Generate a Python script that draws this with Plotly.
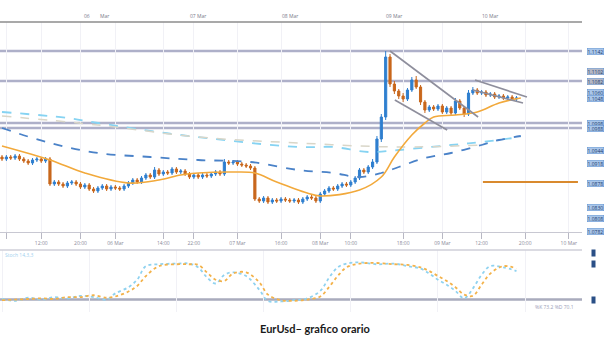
import plotly.graph_objects as go

# ---------------- data ----------------
opens = [
1.0930,1.0926,1.0930,1.0928,1.0932,1.0926,1.0922,1.0918,1.0924,1.0926,
1.0922,1.0926,1.0876,1.0880,1.0876,1.0872,1.0878,1.0880,1.0876,1.0870,
1.0874,1.0866,1.0862,1.0868,1.0872,1.0866,1.0870,1.0868,1.0866,1.0872,
1.0878,1.0884,1.0880,1.0888,1.0894,1.0890,1.0904,1.0896,1.0900,1.0898,
1.0906,1.0900,1.0902,1.0896,1.0890,1.0894,1.0890,1.0894,1.0892,1.0896,
1.0900,1.0896,1.0920,1.0918,1.0920,1.0916,1.0914,1.0912,1.0908,1.0846,
1.0842,1.0848,1.0840,1.0844,1.0842,1.0846,1.0844,1.0842,1.0844,1.0840,
1.0846,1.0850,1.0848,1.0842,1.0856,1.0862,1.0868,1.0866,1.0872,1.0876,
1.0874,1.0880,1.0888,1.0904,1.0900,1.0910,1.0920,1.0966,1.1010,1.1130,
1.1076,1.1062,1.1052,1.1046,1.1064,1.1084,1.1070,1.1040,1.1024,1.1030,
1.1026,1.1032,1.1020,1.1028,1.1018,1.1042,1.1028,1.1016,1.1058,1.1064,
1.1058,1.1060,1.1054,1.1056,1.1050,1.1052,1.1048,1.1050,1.1046]
closes = [
1.0926,1.0930,1.0928,1.0932,1.0926,1.0922,1.0918,1.0924,1.0926,1.0922,
1.0926,1.0876,1.0880,1.0876,1.0872,1.0878,1.0880,1.0876,1.0870,1.0874,
1.0866,1.0862,1.0868,1.0872,1.0866,1.0870,1.0868,1.0866,1.0872,1.0878,
1.0884,1.0880,1.0888,1.0894,1.0890,1.0904,1.0896,1.0900,1.0898,1.0906,
1.0900,1.0902,1.0896,1.0890,1.0894,1.0890,1.0894,1.0892,1.0896,1.0900,
1.0896,1.0920,1.0918,1.0920,1.0916,1.0914,1.0912,1.0908,1.0846,1.0842,
1.0848,1.0840,1.0844,1.0842,1.0846,1.0844,1.0842,1.0844,1.0840,1.0846,
1.0850,1.0848,1.0842,1.0856,1.0862,1.0868,1.0866,1.0872,1.0876,1.0874,
1.0880,1.0888,1.0904,1.0900,1.0910,1.0920,1.0966,1.1010,1.1130,1.1076,
1.1062,1.1052,1.1046,1.1064,1.1084,1.1070,1.1040,1.1024,1.1030,1.1026,
1.1032,1.1020,1.1028,1.1018,1.1042,1.1028,1.1016,1.1058,1.1064,1.1058,
1.1060,1.1054,1.1056,1.1050,1.1052,1.1048,1.1050,1.1046,1.1048]
highs = [
1.0934,1.0934,1.0934,1.0936,1.0936,1.0930,1.0926,1.0928,1.0930,1.0930,
1.0930,1.0930,1.0884,1.0884,1.0880,1.0882,1.0884,1.0884,1.0880,1.0878,
1.0878,1.0870,1.0872,1.0876,1.0876,1.0874,1.0874,1.0872,1.0876,1.0882,
1.0888,1.0888,1.0892,1.0898,1.0898,1.0910,1.0908,1.0904,1.0904,1.0910,
1.0910,1.0906,1.0906,1.0900,1.0898,1.0898,1.0898,1.0898,1.0900,1.0904,
1.0904,1.0926,1.0924,1.0924,1.0924,1.0920,1.0918,1.0916,1.0912,1.0850,
1.0852,1.0852,1.0848,1.0848,1.0850,1.0850,1.0848,1.0848,1.0848,1.0850,
1.0854,1.0854,1.0852,1.0860,1.0866,1.0872,1.0872,1.0876,1.0880,1.0880,
1.0884,1.0892,1.0908,1.0908,1.0914,1.0926,1.0972,1.1016,1.1142,1.1136,
1.1082,1.1066,1.1058,1.1068,1.1090,1.1092,1.1074,1.1044,1.1034,1.1034,
1.1036,1.1036,1.1032,1.1032,1.1048,1.1046,1.1032,1.1064,1.1070,1.1068,
1.1064,1.1064,1.1060,1.1060,1.1056,1.1056,1.1054,1.1054,1.1052]
lows = [
1.0922,1.0922,1.0924,1.0924,1.0922,1.0918,1.0914,1.0914,1.0920,1.0918,
1.0918,1.0872,1.0872,1.0872,1.0868,1.0868,1.0874,1.0872,1.0866,1.0866,
1.0862,1.0858,1.0858,1.0864,1.0862,1.0862,1.0864,1.0862,1.0862,1.0868,
1.0874,1.0876,1.0876,1.0884,1.0886,1.0886,1.0892,1.0892,1.0894,1.0894,
1.0896,1.0896,1.0892,1.0886,1.0886,1.0886,1.0886,1.0888,1.0888,1.0892,
1.0892,1.0892,1.0914,1.0914,1.0912,1.0910,1.0908,1.0904,1.0842,1.0838,
1.0838,1.0836,1.0836,1.0838,1.0838,1.0840,1.0838,1.0838,1.0836,1.0836,
1.0842,1.0844,1.0838,1.0838,1.0852,1.0858,1.0862,1.0862,1.0868,1.0870,
1.0870,1.0876,1.0884,1.0896,1.0896,1.0906,1.0916,1.0960,1.1004,1.1070,
1.1056,1.1046,1.1040,1.1042,1.1060,1.1066,1.1034,1.1018,1.1020,1.1022,
1.1022,1.1016,1.1016,1.1012,1.1014,1.1024,1.1010,1.1012,1.1054,1.1054,
1.1054,1.1050,1.1050,1.1046,1.1046,1.1044,1.1044,1.1042,1.1042]
bars = list(range(len(closes)))

# moving averages (sampled at bar indices)
ma_fast_x = [0, 11, 19, 29, 36, 41, 45, 53, 58, 63, 70, 73, 82, 87, 90, 94, 97, 99, 104, 109, 114, 119]
ma_fast_y = [1.0952, 1.0924, 1.0898, 1.0878, 1.0884, 1.0894, 1.0898, 1.0900, 1.0898, 1.0880, 1.0858,
             1.0852, 1.0864, 1.0890, 1.0930, 1.0974, 1.0998, 1.1010, 1.1014, 1.1020, 1.1038, 1.1048]
ma_slow_x = [0, 11, 22, 34, 45, 57, 68, 76, 82, 87, 91, 97, 103, 110, 114, 119]
ma_slow_y = [1.0988, 1.0958, 1.0938, 1.0930, 1.0924, 1.0920, 1.0904, 1.0898, 1.0890, 1.0898, 1.0910,
             1.0928, 1.0938, 1.0954, 1.0964, 1.0972]
ma_long_x = [0, 15, 22, 41, 68, 76, 84, 91, 103, 110, 119]
ma_long_y = [1.1020, 1.1008, 1.0998, 1.0974, 1.0950, 1.0950, 1.0940, 1.0944, 1.0954, 1.0960, 1.0970]
ma_grey_x = [0, 22, 45, 68, 91, 110]
ma_grey_y = [1.1012, 1.0994, 1.0970, 1.0958, 1.0950, 1.0954]

# support / resistance levels
levels = [1.1142, 1.1082, 1.0998, 1.0988]
target_level = 1.0880
target_x = [110.3, 132.1]

# trendlines (bar index, price)
channel_upper = ([89.0, 109.2], [1.1142, 1.1010])
channel_lower = ([90.1, 102.1], [1.1044, 1.0984])
tri_upper = ([108.5, 120.4], [1.1084, 1.1050])
tri_lower = ([108.0, 119.5], [1.1064, 1.1038])

# oscillator
osc_x = [0, 3, 6, 9, 12, 15, 18, 21, 24, 26, 29, 31, 33, 36, 40, 43, 45, 47, 49, 51, 53, 56, 59, 61, 64,
         67, 70, 73, 75, 77, 79, 82, 86, 90, 93, 96, 98, 100, 102, 104, 106, 108, 110, 112, 115, 118]
osc_k = [21, 18, 23, 20, 24, 22, 26, 24, 20, 30, 40, 52, 74, 77, 78, 78, 72, 56, 46, 60, 64, 58, 36, 18, 17,
         19, 22, 34, 55, 72, 78, 80, 77, 78, 74, 70, 62, 52, 44, 34, 22, 38, 60, 74, 72, 66]
osc_d = [19, 20, 21, 22, 21, 24, 24, 27, 23, 25, 33, 42, 58, 74, 77, 77, 76, 64, 52, 50, 62, 64, 48, 28, 19,
         18, 20, 25, 40, 58, 72, 78, 79, 77, 76, 72, 66, 58, 50, 40, 28, 26, 44, 62, 74, 70]
osc_level = 20

bottom_tick_vals = [1, 9, 18, 26, 37, 44, 54, 64, 73, 80, 92, 101, 110, 120, 130]
bottom_tick_text = ["04:00", "12:00", "20:00", "06 Mar", "14:00", "22:00", "07 Mar", "16:00",
                    "08 Mar", "10:00", "18:00", "09 Mar", "12:00", "20:00", "10 Mar"]
top_label_x = [19.5, 23.5, 45, 66, 90, 112]
top_label_text = ["06", "Mar", "07 Mar", "08 Mar", "09 Mar", "10 Mar"]

price_tags = [1.1142, 1.1102, 1.1082, 1.1060, 1.1048, 1.0998, 1.0988, 1.0944, 1.0918, 1.0878, 1.0830, 1.0808, 1.0782]
price_tag_colors = ["#a9c6ea", "#b4b8c6", "#b4b8c6", "#a9c6ea", "#a9c6ea", "#a9c6ea", "#a9c6ea",
                    "#a9c6ea", "#a9c6ea", "#a9c6ea", "#a9c6ea", "#a9c6ea", "#a9c6ea"]

# ---------------- figure ----------------
W, H = 614, 346
XR = [-0.459, 133.03]
UP = "#2f7fcf"
DN = "#c8671c"

fig = go.Figure()

fig.add_trace(go.Candlestick(
    x=bars, open=opens, high=highs, low=lows, close=closes,
    increasing=dict(line=dict(color=UP, width=1), fillcolor=UP),
    decreasing=dict(line=dict(color=DN, width=1), fillcolor=DN),
    whiskerwidth=0, showlegend=False, xaxis="x", yaxis="y"))

fig.add_trace(go.Scatter(x=ma_long_x, y=ma_long_y, mode="lines", line=dict(color="#86d3f2", width=1.8, dash="dash", shape="spline"),
                         showlegend=False, hoverinfo="skip"))
fig.add_trace(go.Scatter(x=ma_grey_x, y=ma_grey_y, mode="lines", line=dict(color="#d9d6c8", width=1.5, dash="dash", shape="spline"),
                         showlegend=False, hoverinfo="skip"))
fig.add_trace(go.Scatter(x=ma_slow_x, y=ma_slow_y, mode="lines", line=dict(color="#4a82c8", width=1.8, dash="dash", shape="spline"),
                         showlegend=False, hoverinfo="skip"))
fig.add_trace(go.Scatter(x=ma_fast_x, y=ma_fast_y, mode="lines", line=dict(color="#f2a93b", width=1.6, shape="spline"),
                         showlegend=False, hoverinfo="skip"))

for tl in (channel_upper, channel_lower, tri_upper, tri_lower):
    fig.add_trace(go.Scatter(x=tl[0], y=tl[1], mode="lines", line=dict(color="#8e8e9c", width=1.6),
                             showlegend=False, hoverinfo="skip"))

fig.add_trace(go.Scatter(x=target_x, y=[target_level, target_level], mode="lines",
                         line=dict(color="#d98a2e", width=2), showlegend=False, hoverinfo="skip"))

# oscillator
fig.add_trace(go.Scatter(x=osc_x, y=osc_k, mode="lines", line=dict(color="#8fd2f0", width=1.8, dash="dot", shape="spline"),
                         showlegend=False, hoverinfo="skip", xaxis="x2", yaxis="y2"))
fig.add_trace(go.Scatter(x=osc_x, y=osc_d, mode="lines", line=dict(color="#f3b24a", width=1.8, dash="dot", shape="spline"),
                         showlegend=False, hoverinfo="skip", xaxis="x2", yaxis="y2"))

shapes = []
for lv in levels:
    shapes.append(dict(type="line", xref="x domain", yref="y", x0=0, x1=1, y0=lv, y1=lv,
                       line=dict(color="#aeb0c9", width=2.5), layer="below"))
shapes.append(dict(type="line", xref="x2 domain", yref="y2", x0=0, x1=1, y0=osc_level, y1=osc_level,
                   line=dict(color="#a9abbd", width=2.5), layer="below"))
# top axis line
shapes.append(dict(type="line", xref="x domain", yref="y domain", x0=0, x1=1, y0=1, y1=1,
                   line=dict(color="#8c8c8c", width=1.5)))
# oscillator top line
shapes.append(dict(type="line", xref="x2 domain", yref="y2 domain", x0=0, x1=1, y0=1, y1=1,
                   line=dict(color="#cfcfd8", width=1.5)))

annotations = []
for xv, t in zip(top_label_x, top_label_text):
    annotations.append(dict(x=xv, y=1, xref="x", yref="y domain", text=t, showarrow=False,
                            yanchor="bottom", yshift=1, font=dict(size=5, color="#7a7a8a")))
for p, c in zip(price_tags, price_tag_colors):
    annotations.append(dict(x=587 / 582, y=p, xref="x domain", yref="y", xanchor="left", text=f"{p:.4f}",
                            showarrow=False, font=dict(size=5, color="#1d3d6e"), bgcolor=c,
                            bordercolor="#5b8fd0", borderwidth=0.5, borderpad=0))
for v in [95, 78, 20]:
    annotations.append(dict(x=1.015, y=v, xref="x2 domain", yref="y2", xanchor="left", text="  ",
                            showarrow=False, font=dict(size=5), bgcolor="#2a4f86", borderpad=0))
annotations.append(dict(x=0.005, y=1, xref="x2 domain", yref="y2 domain", xanchor="left", yanchor="top",
                        text="Stoch 14,3,3", showarrow=False, font=dict(size=5, color="#9fd0ee")))
annotations.append(dict(x=0.99, y=0, xref="x2 domain", yref="y2 domain", xanchor="right", yanchor="bottom",
                        text="%K 73.2 %D 70.1", showarrow=False, font=dict(size=5, color="#9aa0b8")))
annotations.append(dict(x=315 / W, y=(H - 337) / H, xref="paper", yref="paper", text="<b>EurUsd– grafico orario</b>",
                        showarrow=False, font=dict(family="Lato, Open Sans, sans-serif", size=11, color="#1a1a1a")))

fig.update_layout(
    width=W, height=H, margin=dict(l=0, r=0, t=0, b=0),
    paper_bgcolor="white", plot_bgcolor="white",
    xaxis=dict(domain=[0, 582 / W], range=XR, rangeslider=dict(visible=False),
               showgrid=True, gridcolor="#f1f1f6", tickvals=bottom_tick_vals, ticktext=bottom_tick_text,
               tickfont=dict(size=5, color="#8a8a9a"), ticks="outside", ticklen=6, tickcolor="#b8b8c4",
               showline=True, linecolor="#c8c8d2", linewidth=1, zeroline=False),
    yaxis=dict(domain=[(H - 232) / H, (H - 22) / H], range=[1.0780, 1.1200], side="right",
               showticklabels=False, showgrid=False, zeroline=False),
    xaxis2=dict(domain=[0, 582 / W], range=XR, anchor="y2", showticklabels=False,
                showgrid=True, gridcolor="#f1f1f6", zeroline=False),
    yaxis2=dict(domain=[(H - 312) / H, (H - 250) / H], range=[0, 100], anchor="x2",
                showticklabels=False, showgrid=False, zeroline=False),
    shapes=shapes, annotations=annotations, showlegend=False,
)

fig.write_html("out.html")
